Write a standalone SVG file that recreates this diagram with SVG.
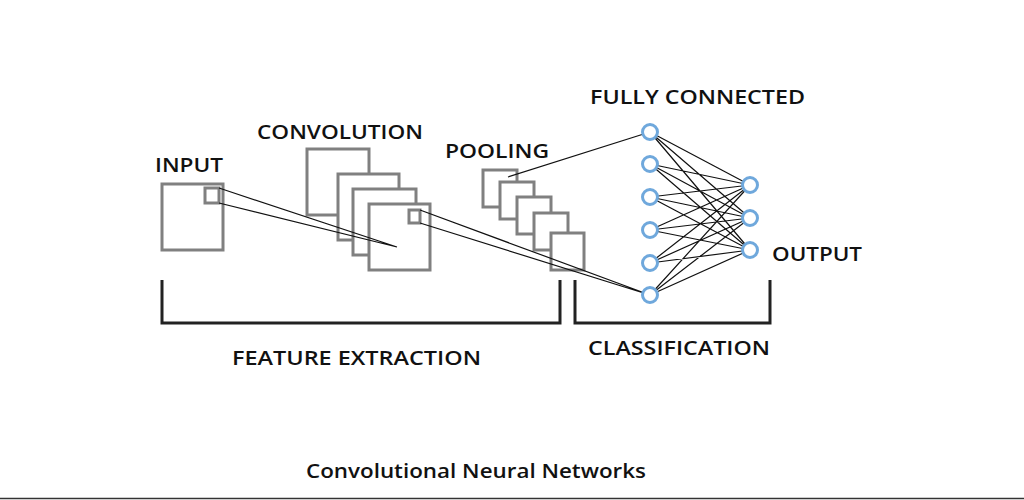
<svg xmlns="http://www.w3.org/2000/svg" width="1024" height="500" viewBox="0 0 1024 500">
<style>
.b{fill:#fff;stroke:#808080;stroke-width:3}
.l{stroke:#111;stroke-width:1.2;fill:none}
.n{fill:#fff;stroke:#6fa8dc;stroke-width:3}
.br{stroke:#222;stroke-width:3;fill:none}
.t{font-family:"Open Sans","Liberation Sans",sans-serif;font-weight:600;font-size:20px;fill:#111}
</style>
<rect width="1024" height="500" fill="#fff"/>
<g id="input"><rect class="b" x="162" y="184" width="61" height="66"/><rect class="b" x="205" y="188" width="14" height="15"/></g>
<g id="convolution">
<rect class="b" x="307" y="149" width="62" height="66"/>
<rect class="b" x="338" y="174" width="61" height="66"/>
<rect class="b" x="353" y="189" width="63" height="66"/>
<rect class="b" x="369" y="204" width="61" height="66"/>
<rect class="b" x="409" y="210" width="11" height="13"/>
</g>
<g id="pooling">
<rect class="b" x="483" y="170" width="34" height="37"/>
<rect class="b" x="500" y="182" width="34" height="37"/>
<rect class="b" x="517" y="197" width="34" height="37"/>
<rect class="b" x="534" y="213" width="34" height="37"/>
<rect class="b" x="551" y="233" width="33" height="37"/>
</g>
<g id="connectors">
<path class="l" d="M219 188L397 247M219 203L397 247M420 210L650 295M420 223L650 295M508 177L650 132"/>
<path class="l" d="M650 132L750 185M650 132L750 218M650 132L750 250M650 164L750 185M650 164L750 218M650 164L750 250M650 197L750 185M650 197L750 218M650 197L750 250M650 230L750 185M650 230L750 218M650 230L750 250M650 263L750 185M650 263L750 218M650 263L750 250M650 295L750 185M650 295L750 218M650 295L750 250"/>
</g>
<g id="fully-connected">
<circle class="n" cx="650" cy="132" r="7.5"/><circle class="n" cx="650" cy="164" r="7.5"/><circle class="n" cx="650" cy="197" r="7.5"/><circle class="n" cx="650" cy="230" r="7.5"/><circle class="n" cx="650" cy="263" r="7.5"/><circle class="n" cx="650" cy="295" r="7.5"/>
</g>
<g id="output"><circle class="n" cx="750" cy="185" r="7.5"/><circle class="n" cx="750" cy="218" r="7.5"/><circle class="n" cx="750" cy="250" r="7.5"/></g>
<g id="feature-extraction"><path class="br" d="M162 280V323H560V280"/></g>
<g id="classification"><path class="br" d="M575 280V323H770V280"/></g>
<text class="t" x="155" y="172" textLength="68" lengthAdjust="spacingAndGlyphs">INPUT</text>
<text class="t" x="257" y="139" textLength="166" lengthAdjust="spacingAndGlyphs">CONVOLUTION</text>
<text class="t" x="445" y="158" textLength="104" lengthAdjust="spacingAndGlyphs">POOLING</text>
<text class="t" x="590" y="104" textLength="215" lengthAdjust="spacingAndGlyphs">FULLY CONNECTED</text>
<text class="t" x="772" y="261" textLength="90" lengthAdjust="spacingAndGlyphs">OUTPUT</text>
<text class="t" x="232" y="365" textLength="249" lengthAdjust="spacingAndGlyphs">FEATURE EXTRACTION</text>
<text class="t" x="588" y="355" textLength="182" lengthAdjust="spacingAndGlyphs">CLASSIFICATION</text>
<text x="306" y="478" font-family="Open Sans, Liberation Sans, sans-serif" font-weight="600" font-size="19" fill="#111" textLength="340" lengthAdjust="spacingAndGlyphs">Convolutional Neural Networks</text>
<line x1="0" y1="498.5" x2="1024" y2="498.5" stroke="#333" stroke-width="1.5"/>
</svg>
